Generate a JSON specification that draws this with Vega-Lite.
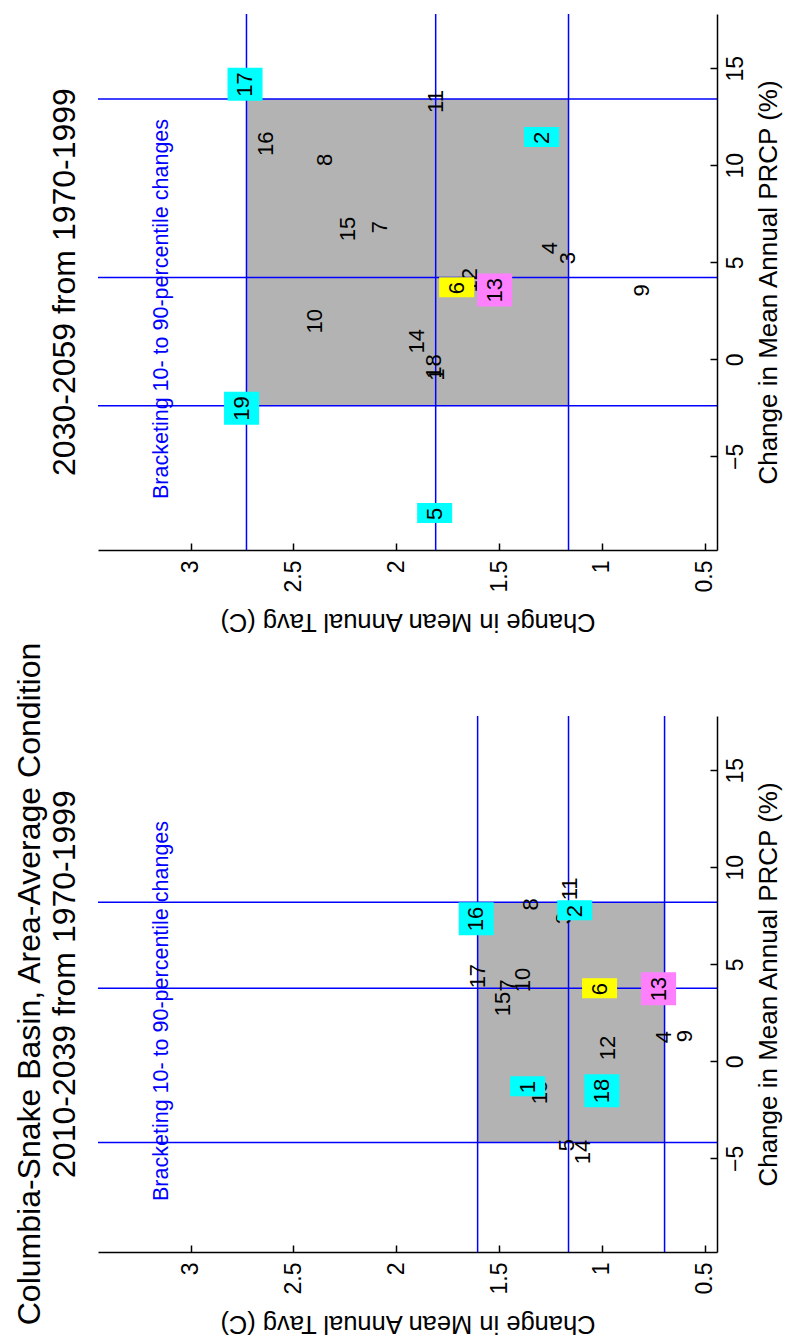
{
  "$schema": "https://vega.github.io/schema/vega-lite/v6.json",
  "background": "white",
  "padding": {"left": 14, "top": 13, "right": 5, "bottom": 0},
  "spacing": 7,
  "datasets": {
    "box": [
      {"period": "2030-2059", "tavg_lo": 1.162, "tavg_hi": 2.728, "prcp_lo": -2.39, "prcp_hi": 13.42},
      {"period": "2010-2039", "tavg_lo": 0.695, "tavg_hi": 1.604, "prcp_lo": -4.18, "prcp_hi": 8.2}
    ],
    "lines": [
      {"period": "2030-2059", "variable": "Tavg", "stat": "10th", "value": 1.162},
      {"period": "2030-2059", "variable": "Tavg", "stat": "median", "value": 1.808},
      {"period": "2030-2059", "variable": "Tavg", "stat": "90th", "value": 2.728},
      {"period": "2030-2059", "variable": "PRCP", "stat": "10th", "value": -2.39},
      {"period": "2030-2059", "variable": "PRCP", "stat": "median", "value": 4.22},
      {"period": "2030-2059", "variable": "PRCP", "stat": "90th", "value": 13.42},
      {"period": "2010-2039", "variable": "Tavg", "stat": "10th", "value": 0.695},
      {"period": "2010-2039", "variable": "Tavg", "stat": "median", "value": 1.162},
      {"period": "2010-2039", "variable": "Tavg", "stat": "90th", "value": 1.604},
      {"period": "2010-2039", "variable": "PRCP", "stat": "10th", "value": -4.18},
      {"period": "2010-2039", "variable": "PRCP", "stat": "median", "value": 3.76},
      {"period": "2010-2039", "variable": "PRCP", "stat": "90th", "value": 8.2}
    ],
    "models": [
      {"period": "2030-2059", "label": "17", "tavg": 2.735, "prcp": 13.53, "group": "bracketing"},
      {"period": "2030-2059", "label": "16", "tavg": 2.635, "prcp": 10.48, "group": "none"},
      {"period": "2030-2059", "label": "8", "tavg": 2.348, "prcp": 9.96, "group": "none"},
      {"period": "2030-2059", "label": "15", "tavg": 2.232, "prcp": 6.09, "group": "none"},
      {"period": "2030-2059", "label": "7", "tavg": 2.081, "prcp": 6.5, "group": "none"},
      {"period": "2030-2059", "label": "11", "tavg": 1.808, "prcp": 12.7, "group": "none"},
      {"period": "2030-2059", "label": "2", "tavg": 1.293, "prcp": 11.1, "group": "bracketing"},
      {"period": "2030-2059", "label": "4", "tavg": 1.254, "prcp": 5.41, "group": "none"},
      {"period": "2030-2059", "label": "3", "tavg": 1.166, "prcp": 4.9, "group": "none"},
      {"period": "2030-2059", "label": "9", "tavg": 0.806, "prcp": 3.24, "group": "none"},
      {"period": "2030-2059", "label": "12", "tavg": 1.643, "prcp": 3.45, "group": "none"},
      {"period": "2030-2059", "label": "6", "tavg": 1.706, "prcp": 3.35, "group": "model6"},
      {"period": "2030-2059", "label": "13", "tavg": 1.521, "prcp": 2.93, "group": "model13"},
      {"period": "2030-2059", "label": "10", "tavg": 2.397, "prcp": 1.33, "group": "none"},
      {"period": "2030-2059", "label": "14", "tavg": 1.901, "prcp": 0.3, "group": "none"},
      {"period": "2030-2059", "label": "18", "tavg": 1.818, "prcp": -1.0, "group": "none"},
      {"period": "2030-2059", "label": "1", "tavg": 1.8, "prcp": -1.1, "group": "none"},
      {"period": "2030-2059", "label": "19", "tavg": 2.752, "prcp": -3.17, "group": "bracketing"},
      {"period": "2030-2059", "label": "5", "tavg": 1.813, "prcp": -8.28, "group": "bracketing"},
      {"period": "2010-2039", "label": "16", "tavg": 1.611, "prcp": 6.7, "group": "bracketing"},
      {"period": "2010-2039", "label": "8", "tavg": 1.344, "prcp": 7.78, "group": "none"},
      {"period": "2010-2039", "label": "11", "tavg": 1.157, "prcp": 8.3, "group": "none"},
      {"period": "2010-2039", "label": "3", "tavg": 1.185, "prcp": 7.06, "group": "none"},
      {"period": "2010-2039", "label": "2", "tavg": 1.132, "prcp": 7.42, "group": "bracketing"},
      {"period": "2010-2039", "label": "17", "tavg": 1.604, "prcp": 3.76, "group": "none"},
      {"period": "2010-2039", "label": "10", "tavg": 1.385, "prcp": 3.56, "group": "none"},
      {"period": "2010-2039", "label": "7", "tavg": 1.458, "prcp": 3.6, "group": "none"},
      {"period": "2010-2039", "label": "15", "tavg": 1.483, "prcp": 2.32, "group": "none"},
      {"period": "2010-2039", "label": "6", "tavg": 1.011, "prcp": 3.4, "group": "model6"},
      {"period": "2010-2039", "label": "13", "tavg": 0.724, "prcp": 3.09, "group": "model13"},
      {"period": "2010-2039", "label": "12", "tavg": 0.972, "prcp": 0.05, "group": "none"},
      {"period": "2010-2039", "label": "4", "tavg": 0.7, "prcp": 0.93, "group": "none"},
      {"period": "2010-2039", "label": "9", "tavg": 0.597, "prcp": 0.98, "group": "none"},
      {"period": "2010-2039", "label": "19", "tavg": 1.3, "prcp": -2.22, "group": "none"},
      {"period": "2010-2039", "label": "1", "tavg": 1.361, "prcp": -1.65, "group": "bracketing"},
      {"period": "2010-2039", "label": "18", "tavg": 1.0, "prcp": -2.16, "group": "bracketing"},
      {"period": "2010-2039", "label": "5", "tavg": 1.171, "prcp": -4.64, "group": "none"},
      {"period": "2010-2039", "label": "14", "tavg": 1.093, "prcp": -5.31, "group": "none"}
    ],
    "notes": [
      {"tavg": 3.141, "prcp": -7.2, "note": "Bracketing 10- to 90-percentile changes"}
    ]
  },
  "vconcat": [
    {
      "title": {"text": "2030-2059 from 1970-1999"},
      "width": 619,
      "height": 536,
      "layer": [
        {
          "data": {"name": "box"},
          "transform": [{"filter": {"field": "period", "equal": "2030-2059"}}],
          "mark": {"type": "rect", "color": "#b3b3b3"},
          "encoding": {
            "x": {"field": "tavg_lo", "type": "quantitative", "scale": {"domain": [0.44, 3.45], "reverse": true, "nice": false, "zero": false}, "axis": {"title": "Change in Mean Annual Tavg (C)", "orient": "bottom", "values": [0.5, 1, 1.5, 2, 2.5, 3], "format": "~g"}},
            "x2": {"field": "tavg_hi"},
            "y": {"field": "prcp_lo", "type": "quantitative", "scale": {"domain": [-9.83, 17.8], "nice": false, "zero": false}, "axis": {"title": "Change in Mean Annual PRCP (%)", "orient": "right", "values": [-5, 0, 5, 10, 15], "format": "~g"}},
            "y2": {"field": "prcp_hi"}
          }
        },
        {
          "data": {"name": "lines"},
          "transform": [{"filter": {"field": "period", "equal": "2030-2059"}}, {"filter": {"field": "variable", "equal": "Tavg"}}],
          "mark": {"type": "rule", "color": "#0000ff", "strokeWidth": 1.5},
          "encoding": {
            "x": {"field": "value", "type": "quantitative", "scale": {"domain": [0.44, 3.45], "reverse": true, "nice": false, "zero": false}}
          }
        },
        {
          "data": {"name": "lines"},
          "transform": [{"filter": {"field": "period", "equal": "2030-2059"}}, {"filter": {"field": "variable", "equal": "PRCP"}}],
          "mark": {"type": "rule", "color": "#0000ff", "strokeWidth": 1.5},
          "encoding": {
            "y": {"field": "value", "type": "quantitative", "scale": {"domain": [-9.83, 17.8], "nice": false, "zero": false}}
          }
        },
        {
          "data": {"name": "models"},
          "transform": [{"filter": {"field": "period", "equal": "2030-2059"}}, {"filter": {"field": "group", "equal": "none"}}],
          "mark": {"type": "text", "angle": 270, "align": "left", "baseline": "middle", "fontSize": 22, "color": "#000000"},
          "encoding": {
            "x": {"field": "tavg", "type": "quantitative", "scale": {"domain": [0.44, 3.45], "reverse": true, "nice": false, "zero": false}},
            "y": {"field": "prcp", "type": "quantitative", "scale": {"domain": [-9.83, 17.8], "nice": false, "zero": false}},
            "text": {"field": "label"}
          }
        },
        {
          "data": {"name": "models"},
          "transform": [{"filter": {"field": "period", "equal": "2030-2059"}}, {"filter": {"not": {"field": "group", "equal": "none"}}}, {"filter": {"field": "label", "oneOf": ["1", "2", "3", "4", "5", "6", "7", "8", "9"]}}],
          "mark": {"type": "point", "filled": true, "opacity": 1, "strokeWidth": 0, "size": 400, "shape": "M-1.75,0.3L1.75,0.3L1.75,-1.7L-1.75,-1.7Z"},
          "encoding": {
            "x": {"field": "tavg", "type": "quantitative", "scale": {"domain": [0.44, 3.45], "reverse": true, "nice": false, "zero": false}},
            "y": {"field": "prcp", "type": "quantitative", "scale": {"domain": [-9.83, 17.8], "nice": false, "zero": false}},
            "color": {"field": "group", "type": "nominal", "scale": {"domain": ["bracketing", "model6", "model13"], "range": ["#00ffff", "#ffff00", "#ff80ff"]}, "legend": null}
          }
        },
        {
          "data": {"name": "models"},
          "transform": [{"filter": {"field": "period", "equal": "2030-2059"}}, {"filter": {"not": {"field": "group", "equal": "none"}}}, {"filter": {"not": {"field": "label", "oneOf": ["1", "2", "3", "4", "5", "6", "7", "8", "9"]}}}],
          "mark": {"type": "point", "filled": true, "opacity": 1, "strokeWidth": 0, "size": 400, "shape": "M-1.75,0.4L1.75,0.4L1.75,-2.9L-1.75,-2.9Z"},
          "encoding": {
            "x": {"field": "tavg", "type": "quantitative", "scale": {"domain": [0.44, 3.45], "reverse": true, "nice": false, "zero": false}},
            "y": {"field": "prcp", "type": "quantitative", "scale": {"domain": [-9.83, 17.8], "nice": false, "zero": false}},
            "color": {"field": "group", "type": "nominal", "scale": {"domain": ["bracketing", "model6", "model13"], "range": ["#00ffff", "#ffff00", "#ff80ff"]}, "legend": null}
          }
        },
        {
          "data": {"name": "models"},
          "transform": [{"filter": {"field": "period", "equal": "2030-2059"}}, {"filter": {"not": {"field": "group", "equal": "none"}}}],
          "mark": {"type": "text", "angle": 270, "align": "left", "baseline": "middle", "fontSize": 22, "color": "#000000"},
          "encoding": {
            "x": {"field": "tavg", "type": "quantitative", "scale": {"domain": [0.44, 3.45], "reverse": true, "nice": false, "zero": false}},
            "y": {"field": "prcp", "type": "quantitative", "scale": {"domain": [-9.83, 17.8], "nice": false, "zero": false}},
            "text": {"field": "label"}
          }
        },
        {
          "data": {"name": "notes"},
          "mark": {"type": "text", "angle": 270, "align": "left", "baseline": "middle", "fontSize": 21.5, "color": "#0000ff"},
          "encoding": {
            "x": {"field": "tavg", "type": "quantitative", "scale": {"domain": [0.44, 3.45], "reverse": true, "nice": false, "zero": false}},
            "y": {"field": "prcp", "type": "quantitative", "scale": {"domain": [-9.83, 17.8], "nice": false, "zero": false}},
            "text": {"field": "note"}
          }
        }
      ]
    },
    {
      "title": {"text": ["Columbia-Snake Basin, Area-Average Condition", "2010-2039 from 1970-1999"]},
      "width": 619,
      "height": 536,
      "layer": [
        {
          "data": {"name": "box"},
          "transform": [{"filter": {"field": "period", "equal": "2010-2039"}}],
          "mark": {"type": "rect", "color": "#b3b3b3"},
          "encoding": {
            "x": {"field": "tavg_lo", "type": "quantitative", "scale": {"domain": [0.44, 3.45], "reverse": true, "nice": false, "zero": false}, "axis": {"title": "Change in Mean Annual Tavg (C)", "orient": "bottom", "values": [0.5, 1, 1.5, 2, 2.5, 3], "format": "~g"}},
            "x2": {"field": "tavg_hi"},
            "y": {"field": "prcp_lo", "type": "quantitative", "scale": {"domain": [-9.83, 17.8], "nice": false, "zero": false}, "axis": {"title": "Change in Mean Annual PRCP (%)", "orient": "right", "values": [-5, 0, 5, 10, 15], "format": "~g"}},
            "y2": {"field": "prcp_hi"}
          }
        },
        {
          "data": {"name": "lines"},
          "transform": [{"filter": {"field": "period", "equal": "2010-2039"}}, {"filter": {"field": "variable", "equal": "Tavg"}}],
          "mark": {"type": "rule", "color": "#0000ff", "strokeWidth": 1.5},
          "encoding": {
            "x": {"field": "value", "type": "quantitative", "scale": {"domain": [0.44, 3.45], "reverse": true, "nice": false, "zero": false}}
          }
        },
        {
          "data": {"name": "lines"},
          "transform": [{"filter": {"field": "period", "equal": "2010-2039"}}, {"filter": {"field": "variable", "equal": "PRCP"}}],
          "mark": {"type": "rule", "color": "#0000ff", "strokeWidth": 1.5},
          "encoding": {
            "y": {"field": "value", "type": "quantitative", "scale": {"domain": [-9.83, 17.8], "nice": false, "zero": false}}
          }
        },
        {
          "data": {"name": "models"},
          "transform": [{"filter": {"field": "period", "equal": "2010-2039"}}, {"filter": {"field": "group", "equal": "none"}}],
          "mark": {"type": "text", "angle": 270, "align": "left", "baseline": "middle", "fontSize": 22, "color": "#000000"},
          "encoding": {
            "x": {"field": "tavg", "type": "quantitative", "scale": {"domain": [0.44, 3.45], "reverse": true, "nice": false, "zero": false}},
            "y": {"field": "prcp", "type": "quantitative", "scale": {"domain": [-9.83, 17.8], "nice": false, "zero": false}},
            "text": {"field": "label"}
          }
        },
        {
          "data": {"name": "models"},
          "transform": [{"filter": {"field": "period", "equal": "2010-2039"}}, {"filter": {"not": {"field": "group", "equal": "none"}}}, {"filter": {"field": "label", "oneOf": ["1", "2", "3", "4", "5", "6", "7", "8", "9"]}}],
          "mark": {"type": "point", "filled": true, "opacity": 1, "strokeWidth": 0, "size": 400, "shape": "M-1.75,0.3L1.75,0.3L1.75,-1.7L-1.75,-1.7Z"},
          "encoding": {
            "x": {"field": "tavg", "type": "quantitative", "scale": {"domain": [0.44, 3.45], "reverse": true, "nice": false, "zero": false}},
            "y": {"field": "prcp", "type": "quantitative", "scale": {"domain": [-9.83, 17.8], "nice": false, "zero": false}},
            "color": {"field": "group", "type": "nominal", "scale": {"domain": ["bracketing", "model6", "model13"], "range": ["#00ffff", "#ffff00", "#ff80ff"]}, "legend": null}
          }
        },
        {
          "data": {"name": "models"},
          "transform": [{"filter": {"field": "period", "equal": "2010-2039"}}, {"filter": {"not": {"field": "group", "equal": "none"}}}, {"filter": {"not": {"field": "label", "oneOf": ["1", "2", "3", "4", "5", "6", "7", "8", "9"]}}}],
          "mark": {"type": "point", "filled": true, "opacity": 1, "strokeWidth": 0, "size": 400, "shape": "M-1.75,0.4L1.75,0.4L1.75,-2.9L-1.75,-2.9Z"},
          "encoding": {
            "x": {"field": "tavg", "type": "quantitative", "scale": {"domain": [0.44, 3.45], "reverse": true, "nice": false, "zero": false}},
            "y": {"field": "prcp", "type": "quantitative", "scale": {"domain": [-9.83, 17.8], "nice": false, "zero": false}},
            "color": {"field": "group", "type": "nominal", "scale": {"domain": ["bracketing", "model6", "model13"], "range": ["#00ffff", "#ffff00", "#ff80ff"]}, "legend": null}
          }
        },
        {
          "data": {"name": "models"},
          "transform": [{"filter": {"field": "period", "equal": "2010-2039"}}, {"filter": {"not": {"field": "group", "equal": "none"}}}],
          "mark": {"type": "text", "angle": 270, "align": "left", "baseline": "middle", "fontSize": 22, "color": "#000000"},
          "encoding": {
            "x": {"field": "tavg", "type": "quantitative", "scale": {"domain": [0.44, 3.45], "reverse": true, "nice": false, "zero": false}},
            "y": {"field": "prcp", "type": "quantitative", "scale": {"domain": [-9.83, 17.8], "nice": false, "zero": false}},
            "text": {"field": "label"}
          }
        },
        {
          "data": {"name": "notes"},
          "mark": {"type": "text", "angle": 270, "align": "left", "baseline": "middle", "fontSize": 21.5, "color": "#0000ff"},
          "encoding": {
            "x": {"field": "tavg", "type": "quantitative", "scale": {"domain": [0.44, 3.45], "reverse": true, "nice": false, "zero": false}},
            "y": {"field": "prcp", "type": "quantitative", "scale": {"domain": [-9.83, 17.8], "nice": false, "zero": false}},
            "text": {"field": "note"}
          }
        }
      ]
    }
  ],
  "config": {
    "view": {"stroke": null},
    "font": "Liberation Sans",
    "title": {"orient": "left", "anchor": "middle", "fontSize": 32, "font": "Liberation Sans", "fontWeight": "normal", "color": "#000000", "offset": 15, "lineHeight": 35},
    "text": {"font": "Liberation Sans"},
    "axis": {"grid": false, "domainColor": "#000000", "domainWidth": 1.5, "tickColor": "#000000", "tickWidth": 1.5, "tickSize": -7, "labelColor": "#000000", "titleColor": "#000000", "labelFont": "Liberation Sans", "titleFont": "Liberation Sans", "labelFontSize": 23, "titleFontSize": 25.5, "titleFontWeight": "normal", "labelFlush": false, "labelOverlap": false, "labelBound": false, "labelPadding": 17},
    "axisX": {"labelAngle": 270, "labelAlign": "right", "labelBaseline": "middle", "titleAngle": 180, "titleBaseline": "bottom", "titlePadding": 17},
    "axisY": {"labelAngle": 270, "labelAlign": "center", "labelBaseline": "top", "titleAngle": 270, "titleBaseline": "top", "titlePadding": 8, "titleFontSize": 26, "labelPadding": 14}
  }
}
